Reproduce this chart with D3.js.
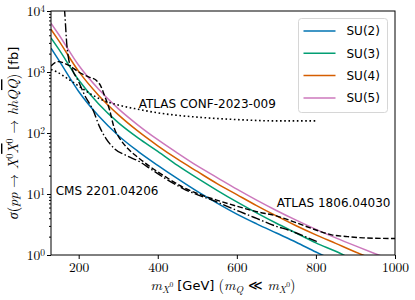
<!DOCTYPE html>
<html>
<head>
<meta charset="utf-8">
<script src="https://cdn.jsdelivr.net/npm/d3@7"></script>
<style>
body { margin: 0; background: #fff; }
</style>
</head>
<body>
<svg id="chart" width="415" height="300"></svg>
<script>
// cross sections in fb
var suMass = [130, 150, 200, 250, 300, 350, 400, 450, 500, 550, 600, 650, 700, 750, 800, 850, 900, 950, 1000];
var su2 = [2455, 1549, 479, 191, 91.2, 50.1, 29.5, 17.8, 11.0, 7.08, 4.68, 3.24, 2.29, 1.62, 1.12, 0.79, 0.56];
var su3 = [3631, 2344, 741, 302, 148, 83.2, 50.1, 29.5, 18.2, 11.5, 7.41, 4.90, 3.31, 2.29, 1.58, 1.15, 0.81, 0.60];
var su4 = [5012, 3236, 1023, 417, 200, 107, 61.7, 37.2, 23.4, 14.8, 9.77, 6.46, 4.37, 3.02, 2.14, 1.55, 1.12, 0.83];
var su5 = [6310, 4074, 1288, 525, 251, 135, 77.6, 46.8, 28.8, 18.6, 12.0, 7.94, 5.37, 3.72, 2.63, 1.91, 1.41, 1.05, 0.79];

var confMass = [130, 145, 170, 200, 230, 260, 300, 350, 400, 500, 600, 700, 800];
var confLimit = [1096, 1000, 794, 589, 437, 347, 288, 245, 214, 182, 166, 158, 158];

var atlasMass = [130, 148, 175, 200, 225, 245, 255, 265, 278, 290, 305, 325, 350, 380, 420, 464, 500, 549, 600, 650, 700, 750, 800, 840, 880, 920, 1000];
var atlasLimit = [1259, 1479, 1288, 1000, 832, 724, 603, 417, 240, 120, 79.4, 55.0, 39.8, 28.2, 19.1, 12.9, 10.2, 7.94, 6.31, 5.13, 4.37, 3.39, 2.57, 2.14, 2.00, 1.91, 1.86];

var cmsMass = [161, 165, 170, 175, 185, 200, 215, 236, 253, 270, 291, 320, 354, 380, 420, 464, 549, 608, 650, 700, 730, 770, 802];
var cmsLimit = [19953, 8913, 2818, 1585, 1047, 692, 417, 240, 126, 79.4, 55.0, 42.7, 33.9, 26.3, 17.8, 12.3, 7.41, 5.13, 3.98, 2.95, 2.57, 2.04, 1.66];

var suNames = ["SU(2)", "SU(3)", "SU(4)", "SU(5)"];
var suColors = ["#0173b2", "#029e73", "#d55e00", "#cc78bc"];

var xTicks = [200, 400, 600, 800, 1000];
var yTicks = [1, 10, 100, 1000, 10000];

var notes = [
    {text: "ATLAS CONF-2023-009", m: 352, v: 257},
    {text: "CMS 2201.04206", m: 142, v: 9.6},
    {text: "ATLAS 1806.04030", m: 701, v: 6.1}
];

var serif = "'Latin Modern Roman','CMU Serif','Liberation Serif',serif";
var sans = "'DejaVu Sans',sans-serif";

var margin = {top: 11, right: 20, bottom: 45, left: 51};
var width = 415 - margin.left - margin.right;
var height = 300 - margin.top - margin.bottom;

var svg = d3.select("#chart");

var x = d3.scaleLinear().domain([130, 1000]).range([0, width]);
var y = d3.scaleLog().domain([1, 1e4]).range([height, 0]);

var g = svg.append("g")
    .attr("transform", "translate(" + margin.left + "," + margin.top + ")");

g.append("clipPath")
    .attr("id", "clip")
  .append("rect")
    .attr("width", width)
    .attr("height", height);

var line = d3.line()
    .x(function(d) { return x(d[0]); })
    .y(function(d) { return y(d[1]); })
    .curve(d3.curveMonotoneX);

function pairs(ms, vs) {
    return vs.map(function(v, i) { return [ms[i], v]; });
}

var plot = g.append("g").attr("clip-path", "url(#clip)");

[su2, su3, su4, su5].forEach(function(s, i) {
    plot.append("path")
        .attr("fill", "none")
        .attr("stroke", suColors[i])
        .attr("stroke-width", 1.5)
        .attr("d", line(pairs(suMass, s)));
});

plot.append("path")
    .attr("fill", "none")
    .attr("stroke", "black")
    .attr("stroke-width", 1.6)
    .attr("stroke-dasharray", "1.6,2.6")
    .attr("d", line(pairs(confMass, confLimit)));

plot.append("path")
    .attr("fill", "none")
    .attr("stroke", "black")
    .attr("stroke-width", 1.4)
    .attr("stroke-dasharray", "5.5,2.4")
    .attr("d", line(pairs(atlasMass, atlasLimit)));

plot.append("path")
    .attr("fill", "none")
    .attr("stroke", "black")
    .attr("stroke-width", 1.4)
    .attr("stroke-dasharray", "9,2.4,1.5,2.4")
    .attr("d", line(pairs(cmsMass, cmsLimit)));

// annotations
g.selectAll(".note")
    .data(notes)
  .enter().append("text")
    .attr("class", "note")
    .attr("x", function(d) { return x(d.m); })
    .attr("y", function(d) { return y(d.v); })
    .attr("font-family", sans)
    .attr("font-size", "12px")
    .attr("fill", "black")
    .text(function(d) { return d.text; });

// axes
var xAxis = g.append("g")
    .attr("transform", "translate(0," + height + ")")
    .call(d3.axisBottom(x).tickValues(xTicks).tickFormat(d3.format("d"))
        .tickSize(4).tickSizeOuter(0).tickPadding(3));
xAxis.select(".domain").remove();
xAxis.selectAll("text")
    .attr("font-family", serif)
    .attr("font-size", "13.5px")
    .attr("fill", "black");

var minor = [];
for (var e = 0; e < 4; e++) {
    for (var k = 2; k < 10; k++) minor.push(k * Math.pow(10, e));
}
var yMinor = g.append("g")
    .call(d3.axisLeft(y).tickValues(minor).tickSize(2).tickFormat(""));
yMinor.select(".domain").remove();

var yAxis = g.append("g")
    .call(d3.axisLeft(y).tickValues(yTicks).tickSize(4).tickSizeOuter(0).tickPadding(2));
yAxis.select(".domain").remove();
yAxis.selectAll(".tick text")
    .attr("font-family", serif)
    .attr("font-size", "13.5px")
    .attr("fill", "black")
    .text(null)
    .each(function(d) {
        var t = d3.select(this);
        t.append("tspan").text("10");
        t.append("tspan").attr("dy", "-0.45em").attr("font-size", "9.5px").text(Math.round(Math.log10(d)));
    });

g.append("rect")
    .attr("width", width)
    .attr("height", height)
    .attr("fill", "none")
    .attr("stroke", "black")
    .attr("stroke-width", 1);

// math-ish labels built from tspans
function mathText(sel, parts) {
    var prev = 0;
    parts.forEach(function(p) {
        var shift = p.shift || 0;
        var ts = sel.append("tspan")
            .attr("font-family", p.sans ? sans : serif)
            .attr("font-style", p.it ? "italic" : "normal")
            .attr("font-size", (p.size || 14) + "px")
            .text(p.t);
        if (p.bar) ts.style("text-decoration", "overline");
        if (shift !== prev) ts.attr("dy", shift - prev);
        prev = shift;
    });
}

var yl = svg.append("text")
    .attr("transform", "translate(18," + (margin.top + height / 2) + ") rotate(-90)")
    .attr("text-anchor", "middle")
    .attr("fill", "black");
mathText(yl, [
    {t: "σ", it: true}, {t: "("}, {t: "pp", it: true}, {t: " → "},
    {t: "X", it: true}, {t: "0", shift: -5, size: 10},
    {t: "X", it: true, bar: true}, {t: "0", shift: -5, size: 10},
    {t: " → "}, {t: "hhQ", it: true}, {t: "Q", it: true, bar: true}, {t: ")"},
    {t: " [fb]", sans: true, size: 13}
]);

var xl = svg.append("text")
    .attr("x", margin.left + width / 2)
    .attr("y", 290)
    .attr("text-anchor", "middle")
    .attr("fill", "black");
mathText(xl, [
    {t: "m", it: true}, {t: "X", it: true, shift: 3, size: 10}, {t: "0", shift: -3, size: 7.5},
    {t: " [GeV] ", sans: true, size: 13},
    {t: "("}, {t: "m", it: true}, {t: "Q", it: true, shift: 3, size: 10},
    {t: " ≪ "}, {t: "m", it: true}, {t: "X", it: true, shift: 3, size: 10}, {t: "0", shift: -3, size: 7.5},
    {t: ")"}
]);

// legend
var legend = svg.append("g")
    .attr("transform", "translate(298.5,18.5)");
legend.append("rect")
    .attr("width", 89)
    .attr("height", 94)
    .attr("rx", 3)
    .attr("fill", "white")
    .attr("fill-opacity", 0.8)
    .attr("stroke", "#d6d6d6")
    .attr("stroke-width", 1);
var items = legend.selectAll(".item")
    .data(suNames)
  .enter().append("g")
    .attr("class", "item")
    .attr("transform", function(d, i) { return "translate(0," + (12.5 + i * 22.3) + ")"; });
items.append("line")
    .attr("x1", 5)
    .attr("x2", 37)
    .attr("stroke", function(d, i) { return suColors[i]; })
    .attr("stroke-width", 1.5);
items.append("text")
    .attr("x", 48)
    .attr("dy", "0.36em")
    .attr("font-family", sans)
    .attr("font-size", "12px")
    .attr("fill", "black")
    .text(function(d) { return d; });
</script>
</body>
</html>
